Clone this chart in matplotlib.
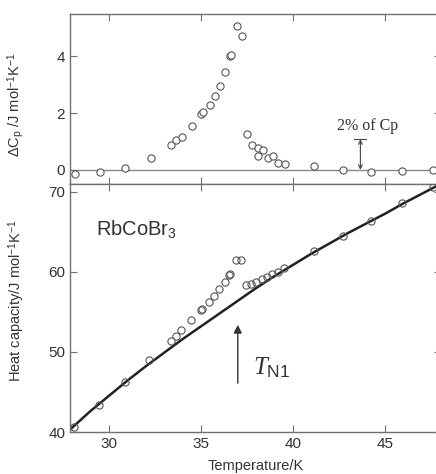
import matplotlib
matplotlib.use("Agg")
import matplotlib.pyplot as plt

# Datos
dcp_T = [28.18, 29.52, 30.91, 32.29, 33.39, 33.66, 33.97, 34.49, 35.02, 35.11,
         35.47, 35.75, 36.02, 36.33, 36.57, 36.62, 36.95, 37.22, 37.52, 37.77,
         38.07, 38.35, 38.07, 38.63, 38.90, 39.20, 39.58, 41.13, 42.68, 44.25,
         45.92, 47.58]
dcp = [-0.13, -0.09, 0.08, 0.43, 0.86, 1.04, 1.15, 1.56, 1.97, 2.03,
       2.30, 2.62, 2.97, 3.46, 4.00, 4.05, 5.07, 4.72, 1.28, 0.86,
       0.77, 0.69, 0.49, 0.43, 0.48, 0.24, 0.22, 0.12, -0.02, -0.06,
       -0.03, -0.02]

cp_T = [28.13, 29.48, 30.89, 32.20, 33.39, 33.64, 33.92, 34.47, 34.98, 35.05,
        35.43, 35.70, 35.99, 36.30, 36.55, 36.60, 36.90, 37.19, 37.44, 37.71,
        37.99, 38.31, 38.60, 38.87, 39.19, 39.53, 41.11, 42.68, 44.25, 45.92,
        47.58]
cp = [40.6, 43.4, 46.2, 49.0, 51.4, 52.0, 52.7, 54.0, 55.25, 55.4,
      56.25, 57.0, 57.9, 58.8, 59.65, 59.8, 61.5, 61.5, 58.4, 58.5,
      58.8, 59.1, 59.4, 59.7, 60.0, 60.5, 62.6, 64.5, 66.4, 68.6,
      70.6]

base_T = [27.9, 29, 30, 31, 32, 33, 34, 35, 36, 37, 38, 39, 40, 41, 42, 43,
          44, 45, 46, 47, 48]
base_cp = [40.3, 42.6, 44.5, 46.4, 48.2, 49.9, 51.6, 53.2, 54.8, 56.4, 58.0,
           59.5, 60.9, 62.3, 63.6, 64.9, 66.1, 67.3, 68.6, 69.8, 71.0]

# Anotaciones
pct_T = 43.65
pct_h = 1.08
tn1_T = 37.0

plt.rcParams["font.family"] = ["Liberation Sans", "DejaVu Sans"]
plt.rcParams["mathtext.fontset"] = "custom"
plt.rcParams["mathtext.rm"] = "Liberation Sans"
plt.rcParams["mathtext.it"] = "Liberation Serif:italic"

gris = "#555555"
marco = "#707070"

fig = plt.figure(figsize=(4.36, 4.74), dpi=100)
W = 370.6 / 436
ax1 = fig.add_axes([70 / 436, 1 - 184 / 474, W, 170 / 474])
ax2 = fig.add_axes([70 / 436, 1 - 432 / 474, W, 248 / 474])

for ax in (ax1, ax2):
    ax.set_xlim(27.9, 48.0)
    ax.set_xticks([30, 35, 40, 45])
    ax.tick_params(direction="in", top=True, right=True, length=5,
                   width=0.8, color=marco, labelsize=11, labelcolor="#333333")
    for s in ax.spines.values():
        s.set_color(marco)
        s.set_linewidth(1.0)

# Panel superior: exceso de capacidad calorifica
ax1.axhline(0, color="#888888", lw=1.0, zorder=1)
ax1.plot(dcp_T, dcp, "o", mfc="white", mec=gris, ms=5.2, mew=0.8, zorder=3)
ax1.set_ylim(-0.5, 5.5)
ax1.set_yticks([0, 2, 4])
ax1.tick_params(labelbottom=False)
ax1.set_ylabel(r"ΔC$_\mathrm{p}$ /J mol$^{-1}$K$^{-1}$", fontsize=10.5,
               color="#333333")
ax1.yaxis.set_label_coords(-0.116, 0.465)
ax1.annotate("", xy=(pct_T, 0), xytext=(pct_T, pct_h),
             arrowprops=dict(arrowstyle="<->", color="#444444", lw=0.8,
                             shrinkA=0, shrinkB=0, mutation_scale=7))
ax1.plot([pct_T - 0.33, pct_T + 0.33], [pct_h, pct_h], color="#444444", lw=0.8)
ax1.text(pct_T + 0.37, pct_h + 0.2, "2% of Cp", family="Liberation Serif",
         fontsize=11.5, ha="center", va="bottom", color="#333333")

# Panel inferior: capacidad calorifica
ax2.plot(base_T, base_cp, color="#222222", lw=1.8, zorder=2)
ax2.plot(cp_T, cp, "o", mfc="none", mec=gris, ms=5.2, mew=0.8, zorder=3)
ax2.set_ylim(40, 71)
ax2.set_yticks([40, 50, 60, 70])
ax2.set_xlabel("Temperature/K", fontsize=10.5, color="#333333", labelpad=6)
ax2.set_ylabel(r"Heat capacity/J mol$^{-1}$K$^{-1}$", fontsize=10.5,
               color="#333333")
ax2.yaxis.set_label_coords(-0.116, 0.53)
ax2.text(29.3, 64.6, r"RbCoBr$_3$", fontsize=14.5, color="#333333")
ax2.annotate("", xy=(tn1_T, 53.4), xytext=(tn1_T, 46.1),
             arrowprops=dict(arrowstyle="-|>", color="#333333", lw=1.0,
                             shrinkA=0, shrinkB=0, mutation_scale=12))
ax2.text(tn1_T + 0.8, 47.2, r"$T_{\mathrm{N1}}$", fontsize=18, color="#333333")

fig.savefig("out.png", dpi=100)
